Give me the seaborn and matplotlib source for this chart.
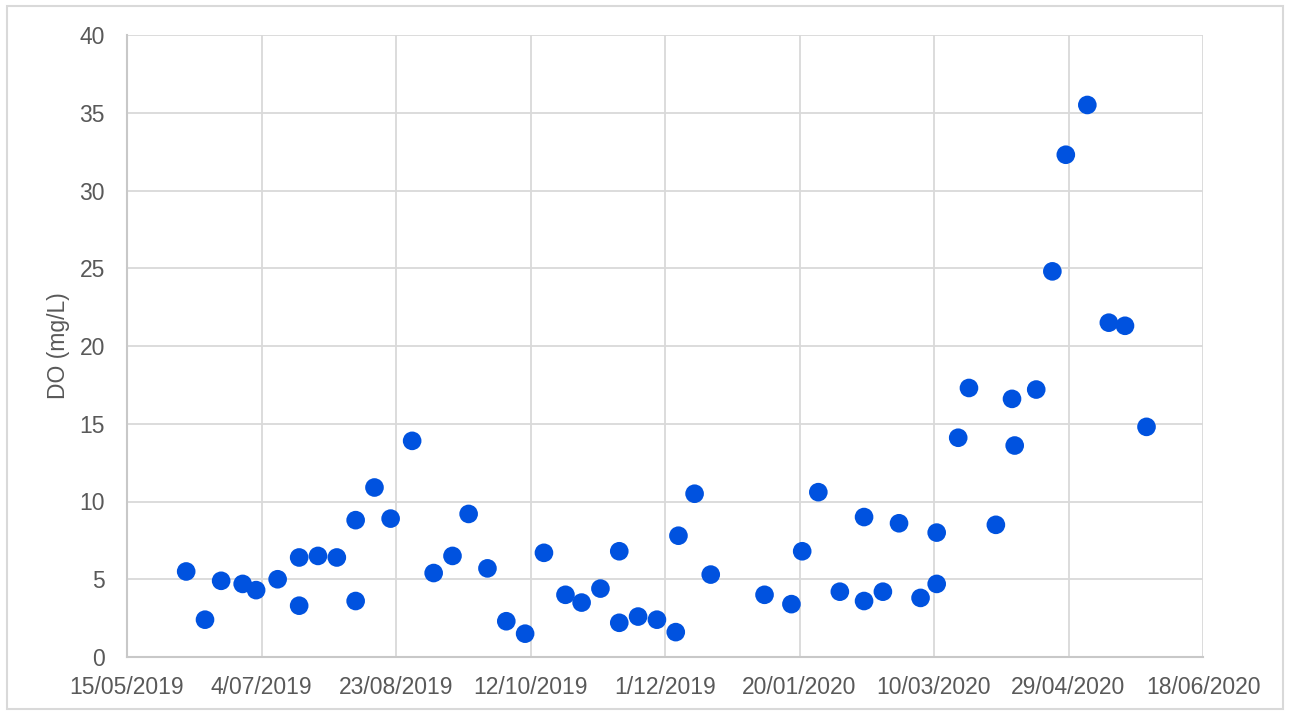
import pandas as pd
import numpy as np
import seaborn as sns
import matplotlib
matplotlib.use("Agg")
import matplotlib.pyplot as plt
import matplotlib.dates as mdates
from matplotlib.patches import Rectangle

# sample dates and dissolved oxygen readings
sample_dates = [
    "2019-06-06", "2019-06-13", "2019-06-19", "2019-06-27", "2019-07-02",
    "2019-07-10", "2019-07-18", "2019-07-18", "2019-07-25", "2019-08-01",
    "2019-08-08", "2019-08-08", "2019-08-15", "2019-08-21", "2019-08-29",
    "2019-09-06", "2019-09-13", "2019-09-19", "2019-09-26", "2019-10-03",
    "2019-10-10", "2019-10-17", "2019-10-25", "2019-10-31", "2019-11-07",
    "2019-11-14", "2019-11-14", "2019-11-21", "2019-11-28", "2019-12-05",
    "2019-12-06", "2019-12-12", "2019-12-18", "2020-01-07", "2020-01-17",
    "2020-01-21", "2020-01-27", "2020-02-04", "2020-02-13", "2020-02-13",
    "2020-02-20", "2020-02-26", "2020-03-05", "2020-03-11", "2020-03-11",
    "2020-03-19", "2020-03-23", "2020-04-02", "2020-04-08", "2020-04-09",
    "2020-04-17", "2020-04-23", "2020-04-28", "2020-05-06", "2020-05-14",
    "2020-05-20", "2020-05-28",
]
do_values = [
    5.5, 2.4, 4.9, 4.7, 4.3,
    5.0, 6.4, 3.3, 6.5, 6.4,
    8.8, 3.6, 10.9, 8.9, 13.9,
    5.4, 6.5, 9.2, 5.7, 2.3,
    1.5, 6.7, 4.0, 3.5, 4.4,
    6.8, 2.2, 2.6, 2.4, 1.6,
    7.8, 10.5, 5.3, 4.0, 3.4,
    6.8, 10.6, 4.2, 3.6, 9.0,
    4.2, 8.6, 3.8, 4.7, 8.0,
    14.1, 17.3, 8.5, 16.6, 13.6,
    17.2, 24.8, 32.3, 35.5, 21.5,
    21.3, 14.8,
]
tick_dates = ["2019-05-15", "2019-07-04", "2019-08-23", "2019-10-12", "2019-12-01",
              "2020-01-20", "2020-03-10", "2020-04-29", "2020-06-18"]
tick_labels = ["15/05/2019", "4/07/2019", "23/08/2019", "12/10/2019", "1/12/2019",
               "20/01/2020", "10/03/2020", "29/04/2020", "18/06/2020"]
y_ticks = [0, 5, 10, 15, 20, 25, 30, 35, 40]

df = pd.DataFrame({"date": pd.to_datetime(sample_dates), "DO": do_values})

sns.set_style("white")
plt.rcParams["font.family"] = ["Liberation Sans", "DejaVu Sans"]

fig = plt.figure(figsize=(12.92, 7.11), dpi=100)
ax = fig.add_axes([127 / 1292, 54 / 711, 1076 / 1292, 622 / 711])

sns.scatterplot(data=df, x="date", y="DO", ax=ax, color="#0052DF",
                s=180, edgecolor="none", zorder=3)

ticks = pd.to_datetime(tick_dates)
ax.set_xlim(ticks[0], ticks[-1])
ax.set_xticks(ticks)
ax.set_xticklabels(tick_labels)
ax.set_ylim(0, 40)
ax.set_yticks(y_ticks)

ax.grid(True, color="#d9d9d9", linewidth=1.3)
ax.set_axisbelow(True)
for side in ["top", "right"]:
    ax.spines[side].set_visible(False)
for side in ["left", "bottom"]:
    ax.spines[side].set_color("#c8c8c8")
    ax.spines[side].set_linewidth(1.5)

ax.tick_params(axis="both", length=0, labelsize=16.5, labelcolor="#595959")
ax.tick_params(axis="x", pad=14)
ax.tick_params(axis="y", pad=16)
ax.set_xlabel("")
ax.set_ylabel("DO (mg/L)", fontsize=16.5, color="#595959", labelpad=7)

# light frame around the whole chart
fig.patches.append(Rectangle((7 / 1292, 2 / 711), 1276 / 1292, 703 / 711,
                             transform=fig.transFigure, fill=False,
                             edgecolor="#d9d9d9", linewidth=1.5))

fig.savefig("out.png", dpi=100)
